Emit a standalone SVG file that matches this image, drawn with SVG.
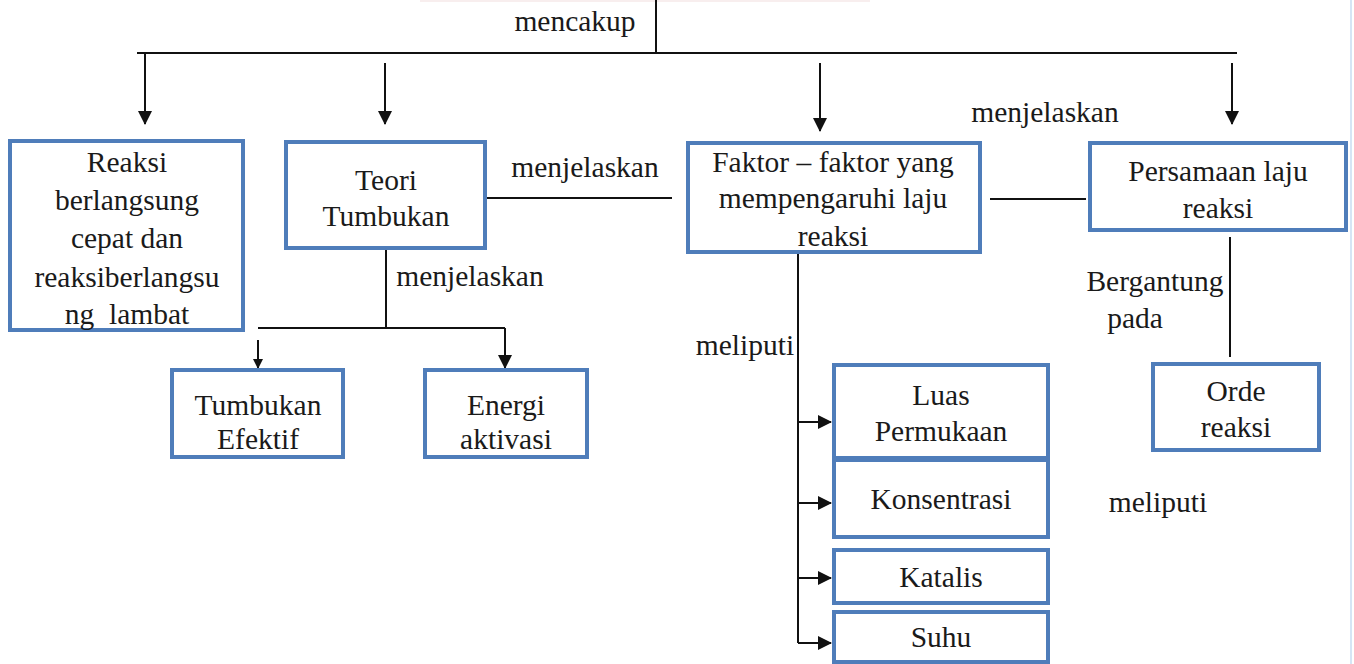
<svg xmlns="http://www.w3.org/2000/svg" width="1354" height="664" viewBox="0 0 1354 664">
<style>
.box{fill:#fff;stroke:#4f7dba;stroke-width:4}
.ln{stroke:#111;stroke-width:2;fill:none}
text{font-family:"Liberation Serif","Times New Roman",serif;font-size:29.5px;fill:#1a1a1a;text-anchor:middle}
</style>
<defs>
<marker id="ah" markerWidth="10" markerHeight="10" refX="9" refY="5" orient="auto" markerUnits="userSpaceOnUse" viewBox="0 0 10 10">
<path d="M0,0 L10,5 L0,10 z" fill="#111"/>
</marker>
<marker id="ahs" markerWidth="14" markerHeight="14" refX="13" refY="7" orient="auto" markerUnits="userSpaceOnUse" viewBox="0 0 14 14">
<path d="M0,0 L14,7 L0,14 z" fill="#111"/>
</marker>
</defs>
<rect width="1354" height="664" fill="#fff"/>
<line x1="1351" y1="0" x2="1351" y2="664" stroke="#d6e5f5" stroke-width="2"/>
<line x1="420" y1="1" x2="870" y2="1" stroke="#f8eeee" stroke-width="2"/>
<g id="connectors">
<line class="ln" x1="656" y1="0" x2="656" y2="53"/>
<line class="ln" x1="137" y1="53" x2="1237" y2="53"/>
<line class="ln" x1="145" y1="53" x2="145" y2="124" marker-end="url(#ahs)"/>
<line class="ln" x1="385" y1="63" x2="385" y2="124" marker-end="url(#ahs)"/>
<line class="ln" x1="820" y1="63" x2="820" y2="131" marker-end="url(#ahs)"/>
<line class="ln" x1="1232" y1="63" x2="1232" y2="124" marker-end="url(#ahs)"/>
<line class="ln" x1="487" y1="198" x2="672" y2="198"/>
<line class="ln" x1="990" y1="199" x2="1086" y2="199"/>
<line class="ln" x1="386" y1="250" x2="386" y2="328"/>
<line class="ln" x1="258" y1="328" x2="505" y2="328"/>
<line class="ln" x1="258" y1="340" x2="258" y2="368" marker-end="url(#ah)"/>
<line class="ln" x1="505" y1="328" x2="505" y2="368" marker-end="url(#ahs)"/>
<line class="ln" x1="798" y1="253" x2="798" y2="643"/>
<line class="ln" x1="798" y1="422" x2="831" y2="422" marker-end="url(#ahs)"/>
<line class="ln" x1="798" y1="503" x2="831" y2="503" marker-end="url(#ahs)"/>
<line class="ln" x1="798" y1="578" x2="831" y2="578" marker-end="url(#ahs)"/>
<line class="ln" x1="798" y1="643" x2="831" y2="643" marker-end="url(#ahs)"/>
<line class="ln" x1="1230" y1="237" x2="1230" y2="357"/>
</g>
<g id="labels">
<text x="575" y="31">mencakup</text>
<text x="1045" y="122">menjelaskan</text>
<text x="585" y="177">menjelaskan</text>
<text x="470" y="286">menjelaskan</text>
<text x="745" y="355">meliputi</text>
<text x="1158" y="512">meliputi</text>
<text x="1155" y="291">Bergantung</text>
<text x="1135" y="328">pada</text>
</g>
<g id="node-reaksi">
<rect class="box" x="10" y="141" width="233" height="189"/>
<text x="127" y="172">Reaksi</text>
<text x="127" y="210">berlangsung</text>
<text x="127" y="248">cepat dan</text>
<text x="127" y="287">reaksiberlangsu</text>
<text x="127" y="324" xml:space="preserve">ng  lambat</text>
</g>
<g id="node-teori">
<rect class="box" x="286" y="142" width="199" height="106"/>
<text x="386" y="190">Teori</text>
<text x="386" y="226">Tumbukan</text>
</g>
<g id="node-faktor">
<rect class="box" x="688" y="143" width="292" height="109"/>
<text x="833" y="172">Faktor – faktor yang</text>
<text x="833" y="208">mempengaruhi laju</text>
<text x="833" y="246">reaksi</text>
</g>
<g id="node-persamaan">
<rect class="box" x="1090" y="143" width="256" height="87"/>
<text x="1218" y="181">Persamaan laju</text>
<text x="1218" y="218">reaksi</text>
</g>
<g id="node-tumbukan-efektif">
<rect class="box" x="172" y="370" width="171" height="87"/>
<text x="258" y="415">Tumbukan</text>
<text x="258" y="449">Efektif</text>
</g>
<g id="node-energi">
<rect class="box" x="425" y="370" width="162" height="87"/>
<text x="506" y="415">Energi</text>
<text x="506" y="449">aktivasi</text>
</g>
<g id="node-luas">
<rect class="box" x="834" y="365" width="214" height="93"/>
<text x="941" y="405">Luas</text>
<text x="941" y="441">Permukaan</text>
</g>
<g id="node-konsentrasi">
<rect class="box" x="834" y="460" width="214" height="77"/>
<text x="941" y="509">Konsentrasi</text>
</g>
<g id="node-katalis">
<rect class="box" x="834" y="550" width="214" height="53"/>
<text x="941" y="587">Katalis</text>
</g>
<g id="node-suhu">
<rect class="box" x="834" y="612" width="214" height="50"/>
<text x="941" y="647">Suhu</text>
</g>
<g id="node-orde">
<rect class="box" x="1153" y="364" width="166" height="86"/>
<text x="1236" y="401">Orde</text>
<text x="1236" y="437">reaksi</text>
</g>
</svg>
